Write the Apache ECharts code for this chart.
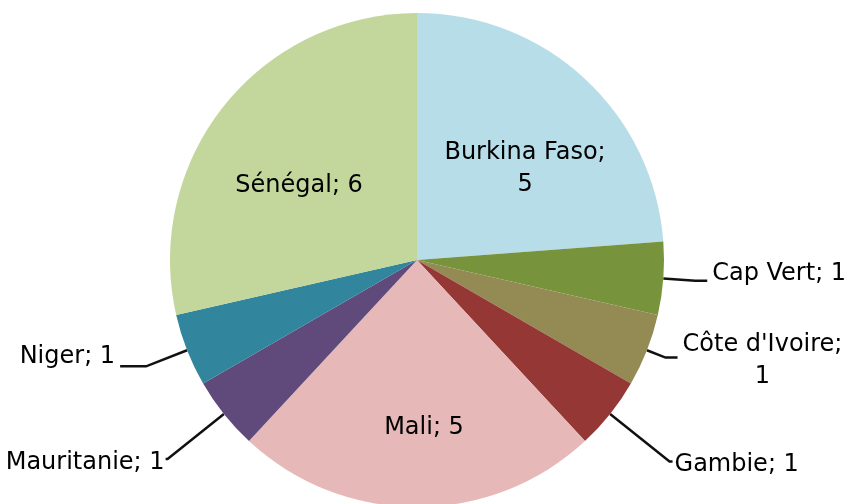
<!DOCTYPE html>
<html>
<head>
<meta charset="utf-8">
<script src="https://cdn.jsdelivr.net/npm/echarts@6/dist/echarts.min.js"></script>
<style>
html,body{margin:0;padding:0;background:#fff;}
#chart{width:853px;height:504px;}
</style>
</head>
<body>
<div id="chart"></div>
<script>
const countries = ['Burkina Faso', 'Cap Vert', "Côte d'Ivoire", 'Gambie', 'Mali', 'Mauritanie', 'Niger', 'Sénégal'];
const counts = [5, 1, 1, 1, 5, 1, 1, 6];
const colors = ['#B7DDE8', '#77933C', '#948A54', '#953735', '#E6B9B8', '#604A7B', '#31859C', '#C3D69B'];

// label styling per slice (position / leader line), not data
const labelStyle = {
  'Burkina Faso': { position: 'inside', offset: [22, 1], fmt: '{b};\n{c}' },
  'Cap Vert': { position: 'outside', line: [32, 12], offset: [0, -7] },
  "Côte d'Ivoire": { position: 'outside', line: [20, 12], offset: [0, 3], fmt: '{b};\n{v|{c}}' },
  'Gambie': { position: 'outside', line: [76, 3], offset: [-3, 3] },
  'Mali': { position: 'inside', offset: [7, 41] },
  'Mauritanie': { position: 'outside', line: [72, 2], offset: [4, 4] },
  'Niger': { position: 'outside', line: [44, 26], offset: [0, -10] },
  'Sénégal': { position: 'inside', offset: [-19, 5] }
};

const data = countries.map((name, i) => {
  const s = labelStyle[name];
  const item = {
    name: name,
    value: counts[i],
    itemStyle: { color: colors[i] },
    label: { position: s.position }
  };
  if (s.offset) item.label.offset = s.offset;
  if (s.fmt) item.label.formatter = s.fmt;
  if (s.line) item.labelLine = { show: true, length: s.line[0], length2: s.line[1] };
  else item.labelLine = { show: false };
  return item;
});

const chart = echarts.init(document.getElementById('chart'), null, { renderer: 'canvas' });
chart.setOption({
  backgroundColor: '#ffffff',
  animation: false,
  series: [{
    type: 'pie',
    center: [417, 260],
    radius: [0, 247],
    startAngle: 90,
    clockwise: true,
    avoidLabelOverlap: false,
    itemStyle: { borderWidth: 0 },
    label: {
      show: true,
      formatter: '{b}; {c}',
      fontFamily: 'DejaVu Sans',
      fontSize: 24,
      lineHeight: 32,
      color: '#000000',
      distanceToLabelLine: 5,
      rich: {
        v: { fontFamily: 'DejaVu Sans', fontSize: 24, lineHeight: 32, color: '#000000', align: 'center' }
      }
    },
    labelLine: {
      lineStyle: { color: '#111111', width: 2.5 }
    },
    data: data
  }]
});
</script>
</body>
</html>
